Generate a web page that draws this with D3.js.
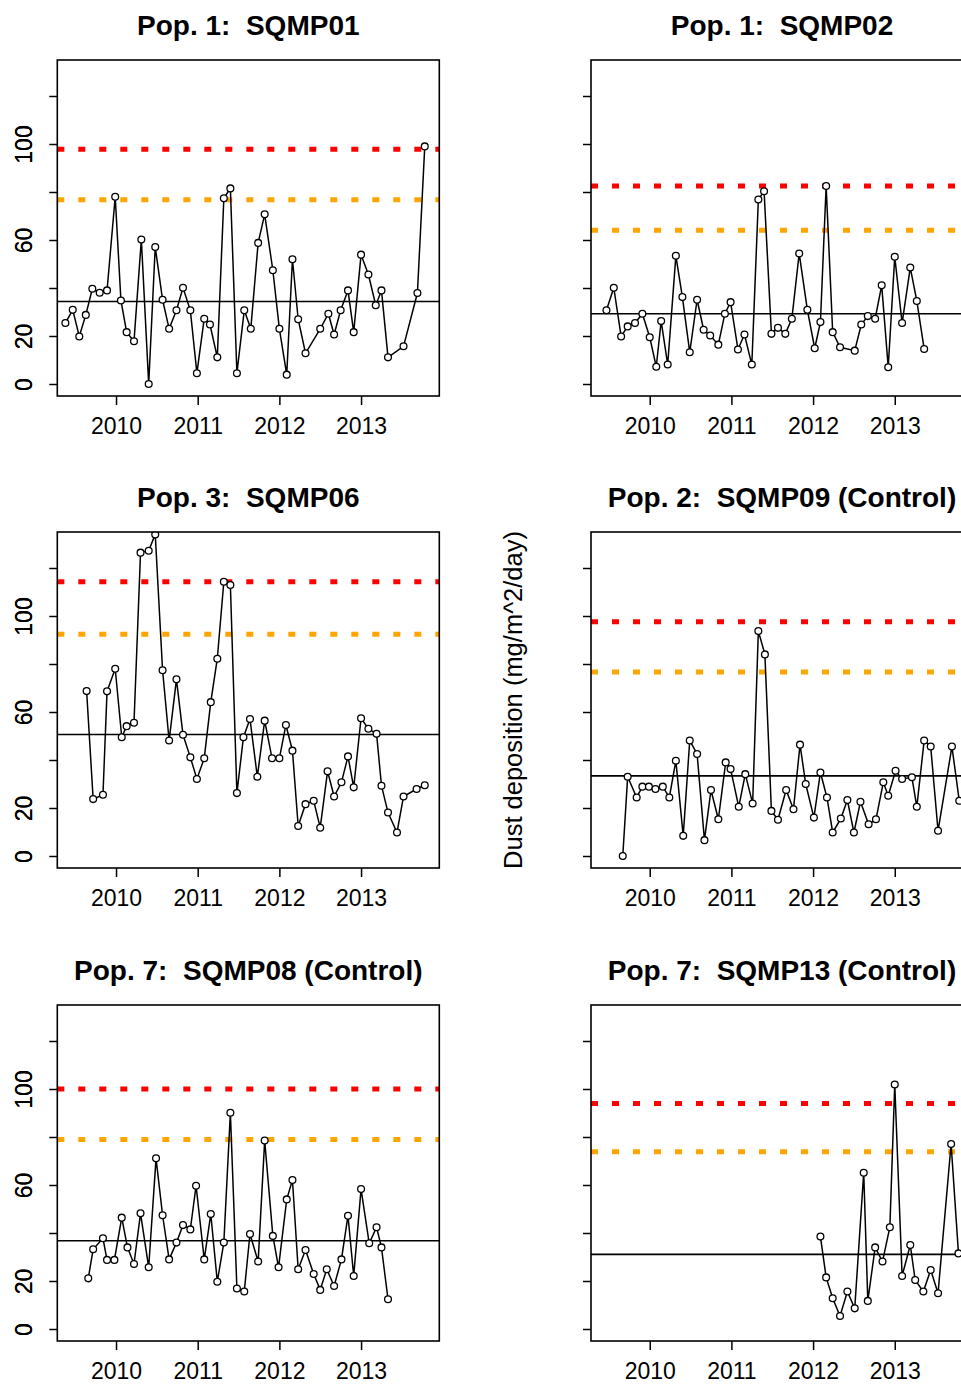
<!DOCTYPE html>
<html>
<head>
<meta charset="utf-8">
<script src="https://cdn.jsdelivr.net/npm/d3@7"></script>
<style>
  html, body { margin: 0; padding: 0; background: #fff; }
  svg { display: block; font-family: "Liberation Sans", Arial, sans-serif; }
</style>
</head>
<body>
<svg id="chart" width="961" height="1384"></svg>
<script>
// ---------------- DATA ----------------
const titles = [
  "Pop. 1:  SQMP01", "Pop. 1:  SQMP02",
  "Pop. 3:  SQMP06", "Pop. 2:  SQMP09 (Control)",
  "Pop. 7:  SQMP08 (Control)", "Pop. 7:  SQMP13 (Control)"
];
const yAxisTitle = "Dust deposition (mg/m^2/day)";

// sample dates (decimal years) and values, one pair of arrays per site
const datesSQMP01 = [2009.38,2009.47,2009.55,2009.63,2009.71,2009.80,2009.89,2009.99,2010.06,2010.13,2010.22,2010.31,2010.40,2010.48,2010.57,2010.65,2010.74,2010.82,2010.91,2010.99,2011.08,2011.15,2011.24,2011.32,2011.40,2011.48,2011.57,2011.65,2011.74,2011.82,2011.92,2012.00,2012.09,2012.16,2012.23,2012.32,2012.50,2012.60,2012.67,2012.75,2012.84,2012.91,2013.00,2013.09,2013.18,2013.25,2013.33,2013.52,2013.69,2013.78];
const valsSQMP01  = [25.4,30.9,19.8,28.8,39.7,38.0,39.0,78.0,34.8,21.6,17.8,60.2,0.0,57.1,35.1,23.0,30.7,40.1,30.7,4.5,27.2,24.8,11.1,77.4,81.5,4.5,30.7,23.0,58.8,70.7,47.4,23.0,3.9,52.0,27.0,12.8,23.0,29.3,20.6,30.7,39.0,21.6,53.9,45.6,32.8,39.0,11.1,15.7,37.9,99.0];

const datesSQMP02 = [2009.47,2009.56,2009.65,2009.73,2009.82,2009.91,2010.00,2010.08,2010.14,2010.22,2010.32,2010.40,2010.49,2010.58,2010.66,2010.74,2010.84,2010.92,2010.99,2011.08,2011.16,2011.25,2011.33,2011.40,2011.49,2011.57,2011.66,2011.74,2011.83,2011.93,2012.02,2012.09,2012.16,2012.24,2012.33,2012.51,2012.59,2012.67,2012.76,2012.84,2012.92,2013.00,2013.09,2013.19,2013.27,2013.36];
const valsSQMP02  = [30.7,40.1,19.8,24.0,25.4,29.3,19.5,7.2,26.2,8.1,53.4,36.2,13.2,35.1,22.6,20.2,16.4,29.3,34.1,14.4,20.6,8.1,76.9,80.3,20.9,23.4,20.9,27.2,54.4,30.9,14.9,25.8,82.5,21.6,15.3,13.9,24.8,28.3,27.2,41.1,7.0,53.0,25.4,48.5,34.6,14.6];

const datesSQMP06 = [2009.64,2009.72,2009.84,2009.89,2009.99,2010.07,2010.13,2010.22,2010.30,2010.40,2010.48,2010.57,2010.65,2010.74,2010.82,2010.91,2010.99,2011.08,2011.16,2011.24,2011.32,2011.40,2011.48,2011.56,2011.64,2011.73,2011.82,2011.91,2012.00,2012.08,2012.16,2012.23,2012.32,2012.42,2012.50,2012.59,2012.67,2012.76,2012.84,2012.91,2013.00,2013.09,2013.19,2013.25,2013.33,2013.44,2013.52,2013.68,2013.78];
const valsSQMP06  = [68.7,23.7,25.5,68.6,78.0,49.5,54.1,55.5,126.4,127.2,134.0,77.4,48.1,73.6,50.5,41.1,32.1,40.7,64.1,82.2,114.3,112.9,26.2,49.5,57.1,33.0,56.4,40.7,40.7,54.6,43.9,12.5,21.6,23.0,11.8,35.3,24.8,30.7,41.5,28.6,57.4,53.0,50.9,29.3,18.1,9.8,24.8,27.9,29.5];

const datesSQMP09 = [2009.67,2009.73,2009.84,2009.91,2009.99,2010.07,2010.16,2010.24,2010.32,2010.41,2010.49,2010.58,2010.67,2010.75,2010.84,2010.93,2010.99,2011.09,2011.17,2011.26,2011.33,2011.41,2011.49,2011.57,2011.67,2011.76,2011.84,2011.91,2012.01,2012.09,2012.17,2012.24,2012.34,2012.42,2012.50,2012.58,2012.68,2012.77,2012.86,2012.92,2013.01,2013.09,2013.21,2013.27,2013.36,2013.44,2013.53,2013.70,2013.79];
const valsSQMP09  = [0.0,33.0,24.4,28.9,28.9,27.9,28.9,24.4,39.7,8.4,48.1,42.5,6.6,27.5,15.3,39.0,36.2,20.5,34.1,21.9,93.7,84.0,18.8,15.1,27.5,19.5,46.4,30.0,16.0,34.8,24.4,9.8,15.6,23.3,9.8,22.6,13.2,15.3,30.7,25.1,35.5,32.1,32.8,20.5,48.1,45.6,10.5,45.6,23.0];

const datesSQMP08 = [2009.66,2009.72,2009.84,2009.89,2009.98,2010.07,2010.14,2010.22,2010.30,2010.40,2010.49,2010.57,2010.65,2010.74,2010.82,2010.91,2010.98,2011.08,2011.16,2011.24,2011.32,2011.40,2011.48,2011.57,2011.64,2011.74,2011.82,2011.92,2011.99,2012.09,2012.16,2012.23,2012.32,2012.42,2012.50,2012.58,2012.67,2012.76,2012.84,2012.91,2013.00,2013.10,2013.19,2013.25,2013.33];
const valsSQMP08  = [21.1,33.2,37.8,28.8,28.8,46.4,34.0,27.1,48.2,25.7,71.1,47.4,29.0,36.0,43.3,41.5,59.7,29.0,47.9,19.7,36.0,90.1,16.9,15.6,39.6,28.1,78.5,38.8,25.7,54.0,62.1,24.9,32.9,22.9,16.3,24.9,17.9,29.0,47.2,22.1,58.3,35.7,42.4,34.0,12.4];

const datesSQMP13 = [2012.09,2012.16,2012.24,2012.33,2012.42,2012.51,2012.62,2012.67,2012.76,2012.85,2012.94,2013.00,2013.09,2013.19,2013.25,2013.35,2013.44,2013.53,2013.69,2013.78];
const valsSQMP13  = [38.5,21.5,12.8,5.4,15.6,8.6,65.1,11.7,34.0,28.1,42.4,101.9,22.1,35.0,20.4,15.6,24.6,14.9,77.1,31.5];

// reference lines per panel: site mean, orange threshold, red threshold
const meanLines   = [34.4, 29.3, 50.6, 33.4, 36.8, 31.1];
const orangeLines = [76.8, 64.1, 92.4, 76.7, 79.0, 73.9];
const redLines    = [97.8, 82.5, 114.3, 97.6, 100.0, 94.0];

const xTicks = [2010, 2011, 2012, 2013];
const xTickLabels = ["2010", "2011", "2012", "2013"];
const yTicks = [0, 20, 40, 60, 80, 100, 120];
const yTickLabels = ["0", "20", "", "60", "", "100", ""];

const seriesDates = [datesSQMP01, datesSQMP02, datesSQMP06, datesSQMP09, datesSQMP08, datesSQMP13];
const seriesVals  = [valsSQMP01, valsSQMP02, valsSQMP06, valsSQMP09, valsSQMP08, valsSQMP13];

// ---------------- LAYOUT ----------------
const colLeft = [57.3, 591];
const rowTop = [60, 532, 1005];
const W = 382, H = 336;
const xDomain = [2009.281, 2013.958];
const yDomain = [-5, 135];

const svg = d3.select("#chart");

for (let i = 0; i < 6; i++) {
  const left = colLeft[i % 2], top = rowTop[Math.floor(i / 2)];
  const x = d3.scaleLinear().domain(xDomain).range([left, left + W]);
  const y = d3.scaleLinear().domain(yDomain).range([top + H, top]);
  const g = svg.append("g");

  const clipId = "clip" + i;
  svg.append("clipPath").attr("id", clipId)
    .append("rect").attr("x", left).attr("y", top).attr("width", W).attr("height", H);

  const plot = g.append("g").attr("clip-path", `url(#${clipId})`);

  // threshold lines
  const hl = (v, color, dash, width) => plot.append("line")
    .attr("x1", left).attr("x2", left + W)
    .attr("y1", y(v)).attr("y2", y(v))
    .attr("stroke", color).attr("stroke-width", width)
    .attr("stroke-dasharray", dash);
  hl(redLines[i], "#ff0000", "7 14", 5);
  hl(orangeLines[i], "#ffa500", "7 14", 5);
  hl(meanLines[i], "#000", null, 1.6);

  // series
  const pts = seriesDates[i].map((d, k) => [d, seriesVals[i][k]]);
  plot.append("path")
    .datum(pts)
    .attr("fill", "none").attr("stroke", "#000").attr("stroke-width", 1.5)
    .attr("d", d3.line().x(d => x(d[0])).y(d => y(d[1])));
  plot.selectAll("circle.pt").data(pts).enter().append("circle")
    .attr("class", "pt")
    .attr("cx", d => x(d[0])).attr("cy", d => y(d[1]))
    .attr("r", 3.4)
    .attr("fill", "#fff").attr("stroke", "#000").attr("stroke-width", 1.3);

  // box
  g.append("rect").attr("x", left).attr("y", top).attr("width", W).attr("height", H)
    .attr("fill", "none").attr("stroke", "#000").attr("stroke-width", 1.6);

  // x axis
  const xa = g.append("g").attr("transform", `translate(0,${top + H})`)
    .call(d3.axisBottom(x).tickValues(xTicks).tickSize(9).tickPadding(13)
      .tickFormat((d, k) => xTickLabels[k]));
  xa.select(".domain").remove();
  xa.selectAll("line").attr("stroke", "#000").attr("stroke-width", 1.5);
  xa.selectAll("text").attr("font-size", 23).attr("fill", "#000")
    .attr("font-family", "'Liberation Sans', Arial, sans-serif");

  // y axis
  const ya = g.append("g").attr("transform", `translate(${left},0)`)
    .call(d3.axisLeft(y).tickValues(yTicks).tickSize(8).tickPadding(0)
      .tickFormat((d, k) => yTickLabels[k]));
  ya.select(".domain").remove();
  ya.selectAll("line").attr("stroke", "#000").attr("stroke-width", 1.5);
  ya.selectAll("text")
    .attr("font-size", 23).attr("fill", "#000")
    .attr("font-family", "'Liberation Sans', Arial, sans-serif")
    .attr("text-anchor", "middle")
    .attr("dy", 0)
    .attr("x", 0).attr("y", 0)
    .attr("transform", `translate(${32 - left},0) rotate(-90)`);

  // title
  g.append("text")
    .attr("x", left + W / 2).attr("y", top - 25)
    .attr("text-anchor", "middle")
    .attr("font-weight", "bold").attr("font-size", 28)
    .attr("xml:space", "preserve")
    .style("white-space", "pre")
    .attr("fill", "#000")
    .text(titles[i]);

  if (i === 3) {
    g.append("text")
      .attr("transform", `translate(${522},${top + H / 2}) rotate(-90)`)
      .attr("text-anchor", "middle")
      .attr("font-size", 25.5).attr("fill", "#000")
      .text(yAxisTitle);
  }
}
</script>
</body>
</html>
